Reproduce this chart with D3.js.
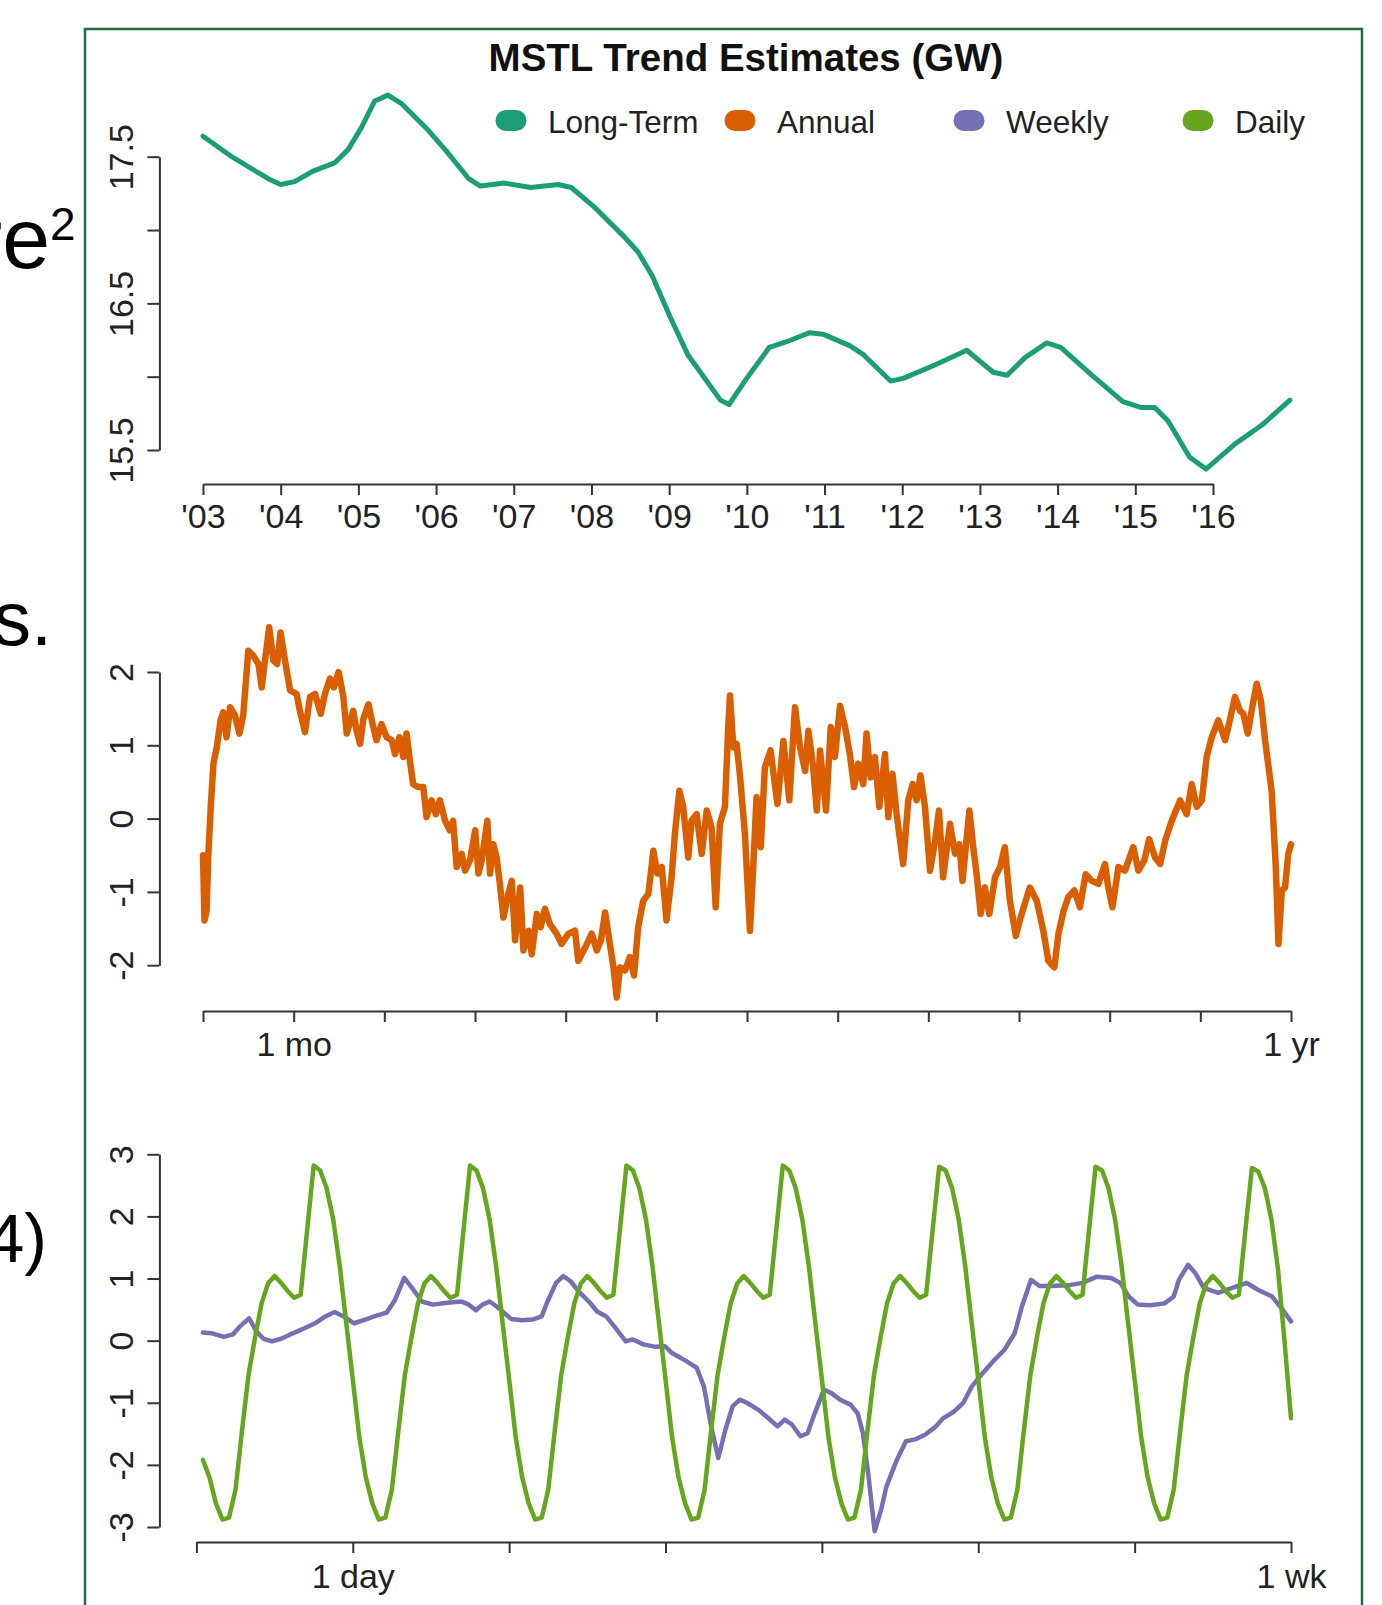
<!DOCTYPE html>
<html>
<head>
<meta charset="utf-8">
<script src="https://cdn.jsdelivr.net/npm/d3@7.9.0/dist/d3.min.js"></script>
<style>
  body { margin: 0; background: #fff; }
  svg { display: block; font-family: "Liberation Sans", Arial, Helvetica, sans-serif; }
  .axis path, .axis line { stroke: #333; stroke-width: 2; }
  .axis text { fill: #222; font-size: 34px; font-family: "Liberation Sans", Arial, sans-serif; }
</style>
</head>
<body>
<svg id="chart" width="1382" height="1605"></svg>
<script>
/* data */
const seriesNames = ['Long-Term', 'Annual', 'Weekly', 'Daily'];
const seriesColors = ['#1B9E77', '#D95F02', '#7570B3', '#66A61E'];

// long-term trend, [year, GW]
const trend = [
  [2003.0,17.64],[2003.37,17.50],[2003.84,17.35],[2004.0,17.31],[2004.18,17.33],[2004.41,17.40],
  [2004.70,17.46],[2004.87,17.55],[2005.04,17.70],[2005.21,17.88],[2005.38,17.92],[2005.56,17.86],
  [2005.90,17.68],[2006.13,17.54],[2006.42,17.35],[2006.57,17.30],[2006.88,17.32],[2007.22,17.29],
  [2007.57,17.31],[2007.74,17.29],[2008.03,17.16],[2008.43,16.95],[2008.60,16.85],[2008.78,16.69],
  [2009.01,16.41],[2009.24,16.15],[2009.43,16.01],[2009.66,15.84],[2009.77,15.81],[2010.0,15.99],
  [2010.29,16.20],[2010.52,16.24],[2010.81,16.30],[2010.98,16.29],[2011.33,16.21],[2011.50,16.15],
  [2011.85,15.97],[2012.02,15.99],[2012.42,16.08],[2012.83,16.18],[2013.17,16.03],[2013.35,16.01],
  [2013.58,16.13],[2013.86,16.23],[2014.04,16.20],[2014.44,16.01],[2014.84,15.83],[2015.07,15.79],
  [2015.25,15.79],[2015.42,15.70],[2015.70,15.45],[2015.91,15.37],[2016.28,15.54],[2016.63,15.67],
  [2016.99,15.84]
];
const years = [2003,2004,2005,2006,2007,2008,2009,2010,2011,2012,2013,2014,2015,2016];
const yearLabels = ["'03","'04","'05","'06","'07","'08","'09","'10","'11","'12","'13","'14","'15","'16"];
const trendTicks = [15.5, 16, 16.5, 17, 17.5];
const trendLabels = ['15.5', '', '16.5', '', '17.5'];

// annual seasonality, [day of year, GW]
const annual = [
  [0,-0.5],[0.5,-1.39],[1.2,-1.26],[1.8,-0.48],[2.6,0.16],[3.5,0.75],[4.6,0.97],[5.9,1.34],[6.8,1.45],
  [7.9,1.11],[9.1,1.52],[10.7,1.41],[12.2,1.16],[13.5,1.41],[15.2,2.29],[16.9,2.22],[18.6,2.11],[19.7,1.79],
  [20.8,2.16],[22.2,2.61],[23.6,2.16],[24.9,2.11],[26,2.54],[27.5,2.16],[29.2,1.75],[31.4,1.7],[32.5,1.47],
  [34.2,1.18],[35.9,1.66],[37.6,1.7],[39.5,1.43],[40.9,1.7],[42.6,1.91],[43.9,1.79],[45.5,2.0],[47.1,1.66],
  [48.2,1.16],[50.4,1.47],[51.5,1.2],[52.7,1.02],[53.8,1.36],[55.5,1.56],[56.9,1.29],[58.2,1.07],[59.9,1.29],
  [61.6,1.11],[63.3,1.07],[64.4,0.88],[65.9,1.11],[67.2,0.84],[68.3,1.16],[69.4,0.79],[70.5,0.47],[72.2,0.43],
  [73.9,0.43],[75,0.02],[76.7,0.25],[78.1,0.06],[79.5,0.25],[81.2,-0.03],[82.8,-0.16],[83.9,-0.03],[85.1,-0.66],
  [86.8,-0.48],[87.9,-0.71],[89.6,-0.57],[91.3,-0.16],[92.4,-0.75],[93.5,-0.57],[95.4,-0.03],[96.3,-0.75],
  [97.4,-0.35],[98.5,-0.53],[99.6,-0.89],[100.8,-1.35],[102.4,-1.03],[103.6,-0.85],[104.7,-1.66],[106.4,-0.94],
  [107.5,-1.8],[109.2,-1.53],[110.3,-1.85],[112,-1.3],[113.3,-1.48],[114.7,-1.23],[116.4,-1.44],[118.6,-1.57],
  [120.3,-1.71],[122.6,-1.57],[124.8,-1.53],[125.9,-1.94],[128.2,-1.76],[130.4,-1.57],[132.1,-1.8],[133.5,-1.66],
  [134.9,-1.28],[136.5,-1.71],[137.7,-2.03],[138.8,-2.44],[139.9,-2.03],[141.6,-2.07],[143.2,-1.89],[144.6,-2.14],
  [146,-1.48],[147.7,-1.12],[149.4,-1.03],[151.1,-0.44],[152.4,-0.75],[153.9,-0.66],[155.5,-1.39],[157.2,-0.8],
  [158.3,-0.21],[159.8,0.38],[161.1,0.16],[162.8,-0.53],[163.9,-0.03],[165.6,0.06],[167.3,-0.48],[169,0.11],
  [170.6,-0.12],[172,-1.21],[173.4,-0.07],[175.1,0.16],[176.2,1.25],[176.8,1.68],[177.9,0.97],[179,1.02],
  [180.1,0.61],[181.8,-0.21],[183.5,-1.53],[184.6,-0.66],[185.7,0.29],[187.1,-0.39],[188.5,0.7],[190.4,0.93],
  [192.7,0.2],[194.7,1.06],[196.7,0.25],[198.6,1.52],[200.3,0.97],[202,0.65],[203.1,1.2],[204.7,0.7],
  [205.9,0.11],[207,0.93],[209,0.11],[210.6,1.25],[212,0.84],[213.7,1.54],[215.4,1.25],[217,0.88],[218.4,0.43],
  [219.8,0.75],[221.5,0.47],[222.6,1.16],[224,0.56],[225.4,0.84],[226.9,0.16],[228.8,0.88],[229.9,0.02],
  [231.3,0.61],[232.7,0.06],[234.9,-0.62],[236.6,0.25],[238.1,0.47],[239.4,0.25],[240.7,0.59],[242.2,0.16],
  [243.9,-0.71],[245.6,-0.3],[246.9,0.11],[248.3,-0.8],[250.6,-0.07],[252.3,-0.48],[253.7,-0.35],[254.8,-0.85],
  [257.1,0.11],[258.4,-0.39],[259.5,-0.75],[260.9,-1.3],[262.3,-0.94],[263.8,-1.3],[265.7,-0.8],[267.4,-0.66],
  [269,-0.39],[270.7,-1.12],[272.7,-1.6],[274.3,-1.35],[275.7,-1.16],[277.4,-0.94],[279.7,-1.12],[281.9,-1.53],
  [283.6,-1.94],[285.6,-2.03],[287,-1.57],[288.7,-1.26],[290.3,-1.07],[292.3,-0.98],[294.2,-1.21],[296.1,-0.76],
  [298.2,-0.85],[300.4,-0.89],[302.6,-0.62],[303.7,-0.94],[305.1,-1.21],[307.1,-0.66],[309.3,-0.71],[312.1,-0.39],
  [313.8,-0.71],[315.8,-0.57],[317.4,-0.28],[319.4,-0.53],[321.1,-0.62],[322.8,-0.3],[325,-0.03],[327.8,0.25],
  [330,0.06],[331.7,0.47],[333.4,0.16],[335.1,0.25],[336.7,0.84],[338.4,1.11],[340.6,1.34],[342.9,1.07],
  [344.2,1.29],[346.2,1.66],[347.9,1.47],[349,1.43],[350.5,1.16],[352,1.52],[353.5,1.84],[354.9,1.61],
  [356.3,1.07],[358.5,0.38],[359.9,-0.66],[360.8,-1.71],[361.9,-0.98],[363,-0.94],[364.1,-0.48],[365,-0.35]
];
const monthTicks = [0,30.42,60.83,91.25,121.67,152.08,182.5,212.92,243.33,273.75,304.17,334.58,365];
const monthLabels = ['','1 mo','','','','','','','','','','','1 yr'];
const annualTicks = [-2, -1, 0, 1, 2];

// weekly seasonality, [hour of week, GW]
const weekly = [
  [1,0.13],[2.3,0.12],[4.2,0.06],[5.6,0.1],[6.7,0.23],[8.1,0.36],[9.2,0.15],[10.3,0.03],[11.6,-0.01],[13,0.03],
  [14.4,0.1],[15.5,0.15],[16.6,0.2],[18.2,0.28],[19.8,0.39],[21.2,0.46],[22.6,0.39],[24.2,0.28],[25.9,0.34],
  [27.5,0.4],[29.2,0.45],[30.5,0.66],[31.9,1.01],[33.3,0.82],[34.6,0.63],[36.3,0.58],[38.5,0.61],[40.7,0.63],
  [41.8,0.58],[42.9,0.49],[43.9,0.58],[45,0.63],[46.1,0.55],[47.2,0.45],[48.3,0.35],[50,0.33],[51.6,0.34],
  [53,0.39],[53.8,0.61],[55.2,0.93],[56.3,1.04],[57.4,0.96],[58.7,0.79],[60.4,0.61],[61.5,0.47],[62.9,0.39],
  [64.5,0.18],[65.9,-0.01],[67,0.02],[68.6,-0.06],[70.5,-0.1],[71.9,-0.09],[73,-0.2],[75.2,-0.33],[76.8,-0.44],
  [77.9,-0.74],[79,-1.38],[80.1,-1.89],[81.2,-1.43],[82.3,-1.06],[83.4,-0.95],[84.5,-1.0],[86.2,-1.11],
  [87.8,-1.25],[89.2,-1.38],[90.3,-1.27],[91.4,-1.35],[92.7,-1.54],[93.8,-1.49],[94.9,-1.17],[96.3,-0.79],
  [97.4,-0.84],[98.8,-0.95],[100.4,-1.03],[101.5,-1.17],[102.3,-1.49],[103.1,-2.13],[104.1,-3.07],[105.1,-2.72],
  [105.9,-2.35],[107.5,-1.92],[108.9,-1.62],[110.3,-1.59],[111.9,-1.51],[113.5,-1.38],[114.6,-1.25],[116.3,-1.14],
  [117.7,-1.0],[119,-0.74],[120.7,-0.52],[122.3,-0.33],[124,-0.15],[125.6,0.12],[126.7,0.55],[128.1,0.98],
  [129.4,0.88],[131.1,0.88],[133.8,0.89],[136,0.93],[138.2,1.03],[140.4,1.01],[141.8,0.93],[143.1,0.71],
  [144.5,0.58],[146.4,0.57],[148.6,0.6],[150,0.71],[150.8,0.98],[152.2,1.22],[153.3,1.09],[154.6,0.85],
  [156.8,0.77],[159,0.85],[161.2,0.93],[162.9,0.82],[165.1,0.71],[166.7,0.5],[168,0.31]
];

// daily seasonality, one value per hour (hours 1..168)
const daily = [
  -1.92,-2.2,-2.62,-2.88,-2.85,-2.4,-1.45,-0.55,0.05,0.6,0.92,1.04,0.93,0.8,0.69,0.74,1.78,2.82,2.74,2.45,1.95,1.2,0.28,-0.62,
  -1.55,-2.2,-2.62,-2.88,-2.85,-2.4,-1.45,-0.55,0.05,0.6,0.92,1.04,0.93,0.8,0.69,0.74,1.78,2.82,2.74,2.45,1.95,1.2,0.28,-0.62,
  -1.55,-2.2,-2.62,-2.88,-2.85,-2.4,-1.45,-0.55,0.05,0.6,0.92,1.04,0.93,0.8,0.69,0.74,1.78,2.82,2.74,2.45,1.95,1.2,0.28,-0.62,
  -1.55,-2.2,-2.62,-2.88,-2.85,-2.4,-1.45,-0.55,0.05,0.6,0.92,1.04,0.93,0.8,0.69,0.74,1.78,2.82,2.74,2.45,1.95,1.2,0.28,-0.62,
  -1.55,-2.2,-2.62,-2.88,-2.85,-2.4,-1.45,-0.55,0.05,0.6,0.92,1.04,0.93,0.8,0.69,0.74,1.78,2.8,2.74,2.45,1.95,1.2,0.28,-0.62,
  -1.55,-2.2,-2.62,-2.88,-2.85,-2.4,-1.45,-0.55,0.05,0.6,0.92,1.04,0.93,0.8,0.69,0.74,1.78,2.8,2.74,2.45,1.95,1.2,0.28,-0.62,
  -1.55,-2.2,-2.62,-2.88,-2.85,-2.4,-1.45,-0.55,0.05,0.6,0.92,1.04,0.93,0.8,0.69,0.74,1.78,2.78,2.72,2.45,1.95,1.15,0.0,-1.25
];
const dayTicks = [0,24,48,72,96,120,144,168];
const dayLabels = ['','1 day','','','','','','1 wk'];
const weekTicks = [-3, -2, -1, 0, 1, 2, 3];

/* page setup */
const svg = d3.select('#chart');

// slide frame and bits of slide text that run off the left edge
svg.append('rect')
  .attr('x', 85).attr('y', 29).attr('width', 1277).attr('height', 1640)
  .attr('fill', 'none').attr('stroke', '#1f6e3c').attr('stroke-width', 2.5);

svg.append('text').attr('x', 50).attr('y', 268).attr('text-anchor', 'end')
  .style('font-size', '86px').text('re');
svg.append('text').attr('x', 50).attr('y', 240).style('font-size', '46px').text('2');
svg.append('text').attr('x', 52).attr('y', 645).attr('text-anchor', 'end')
  .style('font-size', '76px').text('s.');
svg.append('text').attr('x', 47).attr('y', 1262).attr('text-anchor', 'end')
  .style('font-size', '68px').text('4)');

// title + legend
svg.append('text')
  .attr('x', 746).attr('y', 70.5).attr('text-anchor', 'middle')
  .style('font-size', '38.5px').style('font-weight', 'bold').attr('fill', '#111')
  .text('MSTL Trend Estimates (GW)');

const legend = svg.append('g');
seriesNames.forEach((name, i) => {
  let cx = 511 + i * 229;
  legend.append('rect')
    .attr('x', cx - 15.5).attr('y', 110).attr('width', 31).attr('height', 21)
    .attr('rx', 10.5).attr('fill', seriesColors[i]);
  legend.append('text')
    .attr('x', cx + 37).attr('y', 132.5)
    .style('font-size', '31.5px').attr('fill', '#222')
    .text(name);
});

/* axis helpers */
function drawBottomAxis(scale, ticks, labels, y, labelY) {
  let g = svg.append('g').attr('class', 'axis').attr('transform', `translate(0,${y})`);
  g.call(d3.axisBottom(scale).tickValues(ticks).tickFormat((d, i) => labels[i]).tickSize(11).tickSizeOuter(0));
  g.selectAll('text').attr('y', labelY).attr('dy', null);
  return g;
}

function drawLeftAxis(scale, ticks, labels) {
  let g = svg.append('g').attr('class', 'axis').attr('transform', 'translate(159.4,0)');
  g.call(d3.axisLeft(scale).tickValues(ticks).tickFormat((d, i) => labels[i]).tickSize(12).tickSizeOuter(0));
  g.selectAll('text')
    .attr('x', 0).attr('y', -26).attr('dy', null)
    .attr('text-anchor', 'middle')
    .attr('transform', 'rotate(-90)');
  return g;
}

function drawLine(data, xFn, yFn, color, width) {
  svg.append('path')
    .datum(data)
    .attr('d', d3.line().x(xFn).y(yFn))
    .attr('fill', 'none')
    .attr('stroke', color)
    .attr('stroke-width', width)
    .attr('stroke-linejoin', 'round')
    .attr('stroke-linecap', 'round');
}

/* panel 1: long-term trend */
const x1 = d3.scaleLinear().domain([2003, 2016]).range([203, 1213]);
const y1 = d3.scaleLinear().domain([15.5, 17.5]).range([450, 156.7]);
drawLine(trend, d => x1(d[0]), d => y1(d[1]), seriesColors[0], 5);
drawBottomAxis(x1, years, yearLabels, 484, 44);
drawLeftAxis(y1, trendTicks, trendLabels);

/* panel 2: annual */
const x2 = d3.scaleLinear().domain([0, 365]).range([203, 1291]);
const y2 = d3.scaleLinear().domain([-2, 2]).range([965.2, 672]);
drawLine(annual, d => x2(d[0]), d => y2(d[1]), seriesColors[1], 6.5);
drawBottomAxis(x2, monthTicks, monthLabels, 1011, 45);
drawLeftAxis(y2, annualTicks, annualTicks.map(String));

/* panel 3: weekly + daily */
const x3 = d3.scaleLinear().domain([0, 168]).range([196.4, 1291]);
const y3 = d3.scaleLinear().domain([-3, 3]).range([1527, 1154.3]);
drawLine(weekly, d => x3(d[0]), d => y3(d[1]), seriesColors[2], 4.5);
drawLine(daily, (d, i) => x3(i + 1), d => y3(d), seriesColors[3], 4.5);
drawBottomAxis(x3, dayTicks, dayLabels, 1542, 46);
drawLeftAxis(y3, weekTicks, weekTicks.map(String));
</script>
</body>
</html>
